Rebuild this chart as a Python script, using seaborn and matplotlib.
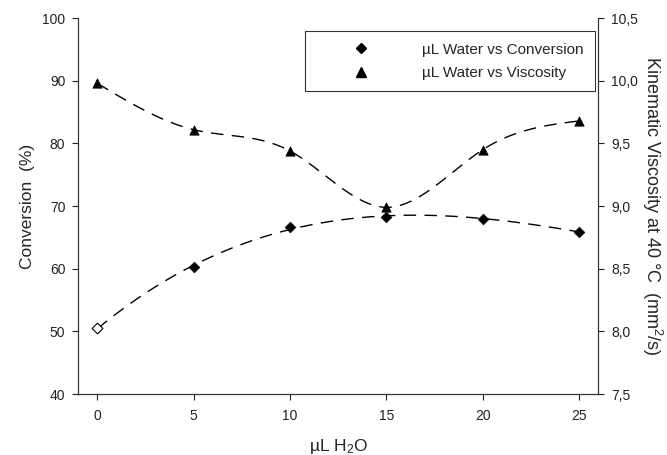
import numpy as np
import pandas as pd
import seaborn as sns
import matplotlib
matplotlib.use("Agg")
import matplotlib.pyplot as plt

# data
water = [0, 5, 10, 15, 20, 25]
conversion = [50.5, 60.3, 66.6, 68.3, 68.0, 65.9]
viscosity = [9.98, 9.61, 9.44, 8.99, 9.45, 9.68]


def natural_spline(x, y, xs):
    # plain natural cubic spline so the dashed viscosity curve goes through the points
    x = np.asarray(x, float)
    y = np.asarray(y, float)
    n = len(x)
    h = np.diff(x)
    A = np.zeros((n, n))
    b = np.zeros(n)
    A[0, 0] = A[-1, -1] = 1
    for i in range(1, n - 1):
        A[i, i - 1] = h[i - 1]
        A[i, i] = 2 * (h[i - 1] + h[i])
        A[i, i + 1] = h[i]
        b[i] = 6 * ((y[i + 1] - y[i]) / h[i] - (y[i] - y[i - 1]) / h[i - 1])
    M = np.linalg.solve(A, b)
    out = []
    for v in xs:
        i = min(np.searchsorted(x, v, side="right") - 1, n - 2)
        t0, t1 = x[i + 1] - v, v - x[i]
        out.append(M[i] * t0 ** 3 / (6 * h[i]) + M[i + 1] * t1 ** 3 / (6 * h[i])
                   + (y[i] / h[i] - M[i] * h[i] / 6) * t0
                   + (y[i + 1] / h[i] - M[i + 1] * h[i] / 6) * t1)
    return np.array(out)


xs = np.linspace(0, 25, 200)
conv_fit = np.polyval(np.polyfit(water, conversion, 3), xs)
visc_fit = natural_spline(water, viscosity, xs)

sns.set_style("ticks")
plt.rcParams["font.family"] = ["Liberation Sans", "DejaVu Sans"]
plt.rcParams["mathtext.fontset"] = "custom"
plt.rcParams["mathtext.rm"] = "Liberation Sans"
plt.rcParams["mathtext.it"] = "Liberation Sans:italic"

fig, ax = plt.subplots(figsize=(6.67, 4.55), dpi=100)
ax2 = ax.twinx()

sns.lineplot(x=xs, y=conv_fit, ax=ax, color="black", lw=1,
             linestyle=(0, (9, 6)))
sns.lineplot(x=xs, y=visc_fit, ax=ax2, color="black", lw=1,
             linestyle=(0, (9, 6)))

# first conversion point is drawn open
ax.scatter(water[:1], conversion[:1], marker="D", s=30, facecolor="white",
           edgecolor="black", linewidth=0.8, zorder=5)
sns.scatterplot(x=water[1:], y=conversion[1:], ax=ax, marker="D", s=30,
                color="black", edgecolor="black", zorder=5)
sns.scatterplot(x=water, y=viscosity, ax=ax2, marker="^", s=45,
                color="black", edgecolor="black", zorder=5)

ax.set_xlim(-1, 26)
ax.set_ylim(40, 100)
ax2.set_ylim(7.5, 10.5)
ax.set_xticks(water)
ax.set_yticks(np.arange(40, 101, 10))
ax2.set_yticks(np.arange(7.5, 10.51, 0.5))
ax2.set_yticklabels([f"{v:.1f}".replace(".", ",") for v in np.arange(7.5, 10.51, 0.5)])

for a in (ax, ax2):
    a.spines["top"].set_visible(False)
    a.tick_params(labelsize=10, length=4.2, width=0.8, direction="out",
                  colors="#222222", pad=5)
    for s in a.spines.values():
        s.set_linewidth(0.8)
        s.set_color("#333333")
ax.tick_params(axis="x", pad=6.5)

ax.set_xlabel("µL H$_2$O", fontsize=12.5, labelpad=10)
ax.set_ylabel("Conversion  (%)", fontsize=12.5, labelpad=5)
ax2.set_ylabel("Kinematic Viscosity at 40 °C  (mm$^2$/s)", fontsize=13,
               rotation=270, labelpad=19)

h1 = plt.Line2D([], [], marker="D", ls="none", color="black", markersize=5.5)
h2 = plt.Line2D([], [], marker="^", ls="none", color="black", markersize=6.5)
leg = ax.legend([h1, h2], ["µL Water vs Conversion", "µL Water vs Viscosity"],
                loc="upper right", bbox_to_anchor=(0.994, 0.965), fontsize=11,
                frameon=True, fancybox=False, edgecolor="black",
                borderpad=0.75, handletextpad=1.1, borderaxespad=0,
                labelspacing=0.6, handlelength=5.8)
leg.get_frame().set_linewidth(0.8)

fig.subplots_adjust(left=0.117, right=0.897, top=0.96, bottom=0.134)
fig.savefig("out.png", dpi=100)
